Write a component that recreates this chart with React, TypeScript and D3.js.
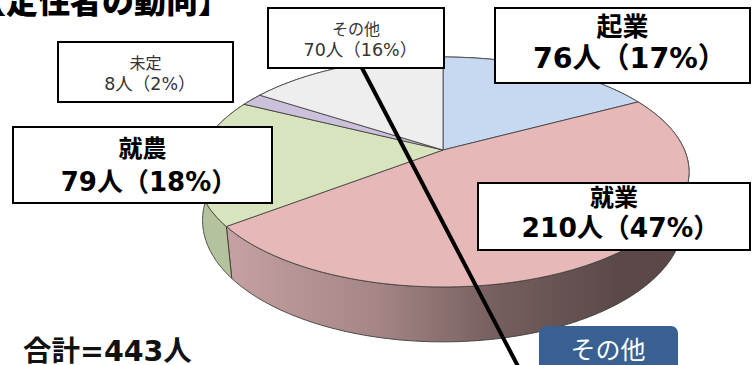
import * as d3 from 'd3'

// ── Data ──────────────────────────────────────────────────────────────────────
const CATEGORIES = ['起業', '就業', '就農', '未定', 'その他']
const VALUES = [76, 210, 79, 8, 70]
const TITLE = '【定住者の動向】'
const BUTTON_LABEL = 'その他'

// ── Styles / layout ───────────────────────────────────────────────────────────
const W = 755
const H = 365
const TOP_COLORS = ['#C6D9F1', '#E6B9B8', '#D7E4BD', '#CCC1DA', '#EEEEEE']
const SIDE_COLORS = ['#9FB0C4', 'url(#sideShade)', '#B5C29E', '#A99FB5', '#C8C8C8']
const EDGE = '#3a3a3a'
const LATIN_FONT = "'DejaVu Sans', 'Noto Sans CJK JP', sans-serif"
const CJK_FONT = "'Noto Sans CJK JP', sans-serif"

// perspective pie: centre, focal length, camera distance (in radii), tilt, thickness
const CX = 443
const CY = 150
const FOCAL = 1123
const DIST = 4.65
const ELEV = (27.3 * Math.PI) / 180
const THICK = 0.227

// label boxes (one per category, same order)
const BOXES = [
  { x: 495, y: 8, w: 255, h: 75, bold: true, s1: 26, s2: 28.5, b1: 36, b2: 68 },
  { x: 478, y: 183, w: 272, h: 67, bold: true, s1: 24, s2: 26.5, b1: 206, b2: 237 },
  { x: 13, y: 127, w: 259, h: 76, bold: true, s1: 24, s2: 26, b1: 157, b2: 191 },
  { x: 58, y: 42, w: 175, h: 60, bold: false, s1: 16, s2: 17.5, b1: 69, b2: 90 },
  { x: 268, y: 8, w: 176, h: 60, bold: false, s1: 16, s2: 17.5, b1: 35, b2: 56 },
]
const LEADER = { x1: 362, y1: 68, x2: 521, y2: 372 }

function project(a: number, z: number): [number, number] {
  const X = Math.sin(a)
  const Y = Math.cos(a)
  const yc = Y * Math.sin(ELEV) + z * Math.cos(ELEV)
  const zc = Y * Math.cos(ELEV) - z * Math.sin(ELEV) + DIST
  return [CX + (FOCAL * X) / zc, CY - (FOCAL * yc) / zc]
}

function rim(a0: number, a1: number, z: number): [number, number][] {
  const n = Math.max(2, Math.ceil(Math.abs(a1 - a0) / 0.01))
  return d3.range(n + 1).map(i => project(a0 + ((a1 - a0) * i) / n, z))
}

const line = d3.line()

export default function App() {
  const total = d3.sum(VALUES)
  const arcs = d3.pie<number>().sort(null).value(d => d)(VALUES)

  // walls far-to-near, then the top faces over them
  const wallOrder = arcs
    .map((a, i) => ({ a, i }))
    .sort((p, q) => Math.cos((q.a.startAngle + q.a.endAngle) / 2) - Math.cos((p.a.startAngle + p.a.endAngle) / 2))
    .reverse()

  return (
    <svg width={W} height={H} style={{ position: 'absolute', left: 0, top: 0, background: '#fff' }}>
      <defs>
        <linearGradient id="sideShade" gradientUnits="userSpaceOnUse" x1={210} y1={0} x2={690} y2={0}>
          <stop offset="0" stopColor="#C9A4A4" />
          <stop offset="0.35" stopColor="#A58585" />
          <stop offset="0.6" stopColor="#755E5E" />
          <stop offset="0.85" stopColor="#5B4949" />
          <stop offset="1" stopColor="#5A4848" />
        </linearGradient>
      </defs>
      <rect width={W} height={H} fill="#fff" />

      <text x={-26} y={13} fontFamily={CJK_FONT} fontWeight={900} fontSize={32} fill="#000">
        {TITLE}
      </text>

      {wallOrder.map(({ a, i }) => {
        const pts = [...rim(a.startAngle, a.endAngle, 0), ...rim(a.endAngle, a.startAngle, -THICK)]
        return (
          <path key={`w${i}`} d={line(pts) + 'Z'} fill={SIDE_COLORS[i]} stroke={EDGE} strokeWidth={0.9} strokeLinejoin="round" />
        )
      })}

      {arcs.map((a, i) => {
        const pts: [number, number][] = [[CX, CY], ...rim(a.startAngle, a.endAngle, 0)]
        return <path key={`t${i}`} d={line(pts) + 'Z'} fill={TOP_COLORS[i]} stroke={EDGE} strokeWidth={0.8} strokeLinejoin="round" />
      })}

      <line x1={LEADER.x1} y1={LEADER.y1} x2={LEADER.x2} y2={LEADER.y2} stroke="#000" strokeWidth={4} />

      {BOXES.map((b, i) => {
        const pct = Math.round((VALUES[i] / total) * 100)
        const cx = b.x + b.w / 2
        return (
          <g key={`b${i}`}>
            <rect x={b.x} y={b.y} width={b.w} height={b.h} fill="#fff" stroke="#000" strokeWidth={2} />
            <text textAnchor="middle" fontWeight={b.bold ? 700 : 400} fill={b.bold ? '#000' : '#333'}>
              <tspan x={cx} y={b.b1} fontFamily={CJK_FONT} fontSize={b.s1}>{CATEGORIES[i]}</tspan>
              <tspan x={cx + b.s2 * 0.25} y={b.b2} fontFamily={LATIN_FONT} fontSize={b.s2}>{`${VALUES[i]}人（${pct}%）`}</tspan>
            </text>
          </g>
        )
      })}

      <text x={23} y={361} fontFamily={LATIN_FONT} fontWeight={700} fontSize={28.5} fill="#111">
        {`合計=${total}人`}
      </text>

      <rect x={539} y={326} width={139} height={50} rx={7} fill="#386192" />
      <text x={608} y={359} textAnchor="middle" fontFamily={CJK_FONT} fontSize={25} fill="#fff">
        {BUTTON_LABEL}
      </text>
    </svg>
  )
}
